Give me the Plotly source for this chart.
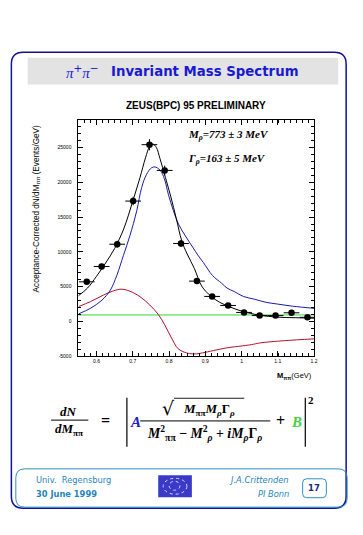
import plotly.graph_objects as go

# ---------------- data ----------------
mass = [0.573, 0.614, 0.657, 0.701, 0.746, 0.788, 0.833, 0.877, 0.919, 0.963, 1.007, 1.050, 1.094, 1.138, 1.182]
counts = [5700, 7900, 11100, 17300, 25400, 21700, 11200, 5800, 3600, 2300, 1300, 850, 850, 1250, 600]
count_err = [350, 400, 500, 600, 800, 700, 500, 400, 300, 250, 250, 250, 250, 250, 250]
bin_half = [0.0217] * 15

fit_x = [0.55, 0.575, 0.60, 0.625, 0.65, 0.675, 0.70, 0.72, 0.735, 0.747, 0.755, 0.765, 0.775,
         0.79, 0.805, 0.82, 0.835, 0.85, 0.87, 0.89, 0.915, 0.94, 0.97, 1.0, 1.05, 1.1, 1.15, 1.2]
fit_y = [3700, 4800, 6500, 8400, 10500, 13300, 17300, 20700, 23500, 25200, 25500, 25000, 23400,
         20700, 17900, 14800, 11600, 9700, 7600, 5100, 3650, 2750, 2050, 1500, 900, 620, 540, 470]

bw_x = [0.55, 0.583, 0.615, 0.638, 0.656, 0.674, 0.692, 0.711, 0.7245, 0.738, 0.752, 0.762, 0.772,
        0.780, 0.789, 0.798, 0.812, 0.826, 0.845, 0.865, 0.88, 0.895, 0.92, 0.945, 0.96, 0.98,
        1.005, 1.036, 1.068, 1.1, 1.141, 1.2]
bw_y = [1080, 1890, 3070, 4500, 6630, 9470, 12320, 15930, 19250, 21140, 22090, 22200, 21900,
        21380, 20200, 18290, 15930, 14000, 12300, 10700, 9500, 8450, 6600, 5500, 4800, 4300,
        3600, 3200, 2750, 2500, 2200, 1890]

int_x = [0.55, 0.583, 0.619, 0.647, 0.67, 0.692, 0.72, 0.747, 0.77, 0.788, 0.807, 0.825, 0.848,
         0.865, 0.88, 0.935, 0.958, 1.027, 1.05, 1.118, 1.2]
int_y = [2130, 2850, 3790, 4410, 4640, 4350, 3560, 2360, 1040, -480, -2380, -3900, -4510,
         -4650, -4620, -4040, -3800, -3330, -3090, -2760, -2500]

bg_x = [0.55, 1.2]
bg_y = [940, 940]

x_ticks = [0.6, 0.7, 0.8, 0.9, 1.0, 1.1, 1.2]
x_ticklabels = ["0.6", "0.7", "0.8", "0.9", "1", "1.1", "1.2"]
y_ticks = [-5000, 0, 5000, 10000, 15000, 20000, 25000]
y_ticklabels = ["-5000", "0", "5000", "10000", "15000", "20000", "25000"]

# ---------------- geometry helpers ----------------
W, H = 363, 535
def PX(x):
    return x / W
def PY(y):
    return 1 - y / H

def rrect(x0, y0, x1, y1, r):
    pts = [
        f"M{PX(x0 + r)},{PY(y0)}",
        f"L{PX(x1 - r)},{PY(y0)}",
        f"Q{PX(x1)},{PY(y0)} {PX(x1)},{PY(y0 + r)}",
        f"L{PX(x1)},{PY(y1 - r)}",
        f"Q{PX(x1)},{PY(y1)} {PX(x1 - r)},{PY(y1)}",
        f"L{PX(x0 + r)},{PY(y1)}",
        f"Q{PX(x0)},{PY(y1)} {PX(x0)},{PY(y1 - r)}",
        f"L{PX(x0)},{PY(y0 + r)}",
        f"Q{PX(x0)},{PY(y0)} {PX(x0 + r)},{PY(y0)}",
        "Z",
    ]
    return " ".join(pts)

fig = go.Figure()

fig.add_trace(go.Scatter(x=bg_x, y=bg_y, mode="lines", line=dict(color="#33d633", width=1)))
fig.add_trace(go.Scatter(x=int_x, y=int_y, mode="lines", line=dict(color="#b0102a", width=1, shape="spline")))
fig.add_trace(go.Scatter(x=bw_x, y=bw_y, mode="lines", line=dict(color="#1a1aa8", width=1, shape="spline")))
fig.add_trace(go.Scatter(x=fit_x, y=fit_y, mode="lines", line=dict(color="black", width=1, shape="spline")))
fig.add_trace(go.Scatter(
    x=mass, y=counts, mode="markers",
    marker=dict(color="black", size=6.5, symbol="circle"),
    error_x=dict(type="data", array=bin_half, width=0, color="black", thickness=1),
    error_y=dict(type="data", array=count_err, width=0, color="black", thickness=1),
))

tickfont = dict(family="Liberation Sans", size=5, color="black")

fig.update_layout(
    width=W, height=H, autosize=False,
    margin=dict(l=0, r=0, t=0, b=0),
    paper_bgcolor="white", plot_bgcolor="white",
    showlegend=False,
    xaxis=dict(
        domain=[PX(79.3), PX(317.5)], range=[0.55, 1.2],
        tickmode="array", tickvals=x_ticks, ticktext=x_ticklabels,
        ticks="inside", ticklen=5, tickwidth=1, tickcolor="black",
        showline=True, linecolor="black", linewidth=1, mirror="allticks",
        showgrid=False, zeroline=False, tickfont=tickfont,
        minor=dict(tickmode="linear", tick0=0.55, dtick=0.0167, ticks="inside", ticklen=3,
                   tickcolor="black", showgrid=False),
    ),
    yaxis=dict(
        domain=[PY(358.3), PY(120.3)], range=[-5000, 29000],
        tickmode="array", tickvals=y_ticks, ticktext=y_ticklabels,
        ticks="inside", ticklen=5, tickwidth=1, tickcolor="black",
        showline=True, linecolor="black", linewidth=1, mirror="allticks",
        showgrid=False, zeroline=False, tickfont=tickfont, ticklabelstandoff=5,
        minor=dict(tickmode="linear", tick0=0, dtick=1000, ticks="inside", ticklen=3,
                   tickcolor="black", showgrid=False),
    ),
)

shapes = []
shapes.append(dict(type="path", path=rrect(11.5, 52.5, 350, 511, 12), xref="paper", yref="paper",
                   line=dict(color="#10109a", width=1.5), fillcolor="rgba(0,0,0,0)", layer="below"))
shapes.append(dict(type="rect", x0=PX(28), x1=PX(342), y0=PY(85), y1=PY(58), xref="paper", yref="paper",
                   line=dict(width=0), fillcolor="#e3e3e3", layer="below"))
shapes.append(dict(type="path", path=rrect(16, 471.5, 351, 510, 9), xref="paper", yref="paper",
                   line=dict(color="#2f8fc4", width=1), fillcolor="rgba(0,0,0,0)", layer="below"))
shapes.append(dict(type="path", path=rrect(306, 481.5, 330, 500.5, 4), xref="paper", yref="paper",
                   line=dict(color="#2f8fc4", width=1), fillcolor="rgba(0,0,0,0)"))
shapes.append(dict(type="rect", x0=PX(160), x1=PX(194), y0=PY(500), y1=PY(478), xref="paper", yref="paper",
                   line=dict(width=0), fillcolor="#3a3ac8"))
shapes.append(dict(type="circle", x0=PX(165), x1=PX(189), y0=PY(497), y1=PY(481), xref="paper", yref="paper",
                   line=dict(color="#d8d8ff", width=1, dash="dot"), fillcolor="rgba(0,0,0,0)"))
shapes.append(dict(type="circle", x0=PX(171), x1=PX(182), y0=PY(493), y1=PY(484), xref="paper", yref="paper",
                   line=dict(color="#d8d8ff", width=1, dash="dot"), fillcolor="rgba(0,0,0,0)"))

def hline(x0, x1, y, w=1):
    return dict(type="line", x0=PX(x0), x1=PX(x1), y0=PY(y), y1=PY(y), xref="paper", yref="paper",
                line=dict(color="black", width=w))
def vline(x, y0, y1, w=1.2):
    return dict(type="line", x0=PX(x), x1=PX(x), y0=PY(y0), y1=PY(y1), xref="paper", yref="paper",
                line=dict(color="black", width=w))
shapes.append(hline(51.7, 89.3, 422.5))
shapes.append(hline(141.7, 273.3, 423.3))
shapes.append(hline(176, 247, 400.5, 0.9))
shapes.append(vline(128.3, 400, 449.3))
shapes.append(vline(308.7, 400, 449.3))
fig.update_layout(shapes=shapes)

serif_bi = "Liberation Serif"
ann = []
def A(x, y, text, size, color="black", family="Liberation Sans", xa="center", ya="middle", angle=0):
    ann.append(dict(x=PX(x), y=PY(y), xref="paper", yref="paper", text=text, showarrow=False,
                    xanchor=xa, yanchor=ya, textangle=angle,
                    font=dict(size=size, color=color, family=family)))

# slide title
A(65, 72, "<span style='font-family:Liberation Serif'><i>π</i></span><sup>+</sup>"
          "<span style='font-family:Liberation Serif'><i>π</i></span><sup>−</sup>", 15,
  color="#1a1ad0", family="DejaVu Sans", xa="left")
A(110, 72, "<b>Invariant Mass Spectrum</b>", 13.3, color="#1a1ad0", family="DejaVu Sans", xa="left")
# chart title
A(198, 106, "<b>ZEUS(BPC) 95 PRELIMINARY</b>", 10)
# fit results
A(188, 136, "<b><i>M<sub>ρ</sub>=773 ± 3 MeV</i></b>", 11, family=serif_bi, xa="left")
A(188, 160, "<b><i>Γ<sub>ρ</sub>=163 ± 5 MeV</i></b>", 11, family=serif_bi, xa="left")
# axis titles
A(37, 210, "Acceptance-Corrected dN/dM<sub>ππ</sub> (Events/GeV)", 8.2, angle=-90)
A(317, 378, "<b>M<sub>ππ</sub></b>(GeV)", 7.5, xa="right")

# formula
A(69, 414, "<b><i>dN</i></b>", 13, family=serif_bi)
A(70, 432, "<b><i>dM</i><sub>ππ</sub></b>", 13, family=serif_bi)
A(106.7, 423, "<b>=</b>", 16, family=serif_bi)
A(137, 424, "<b><i>A</i></b>", 15, color="#2020c8", family=serif_bi)
A(170, 410, "√", 19, family="DejaVu Serif")
A(211, 412, "<b><i>M</i><sub>ππ</sub><i>M</i><sub><i>ρ</i></sub>Γ<sub><i>ρ</i></sub></b>", 13, family=serif_bi)
A(207, 435, "<b><i>M</i><sup>2</sup><sub>ππ</sub> − <i>M</i><sup>2</sup><sub><i>ρ</i></sub> + "
            "<i>iM</i><sub><i>ρ</i></sub>Γ<sub><i>ρ</i></sub></b>", 13.8, family=serif_bi)
A(284, 423, "<b>+</b>", 16, family=serif_bi)
A(300, 424, "<b><i>B</i></b>", 15, color="#44d044", family=serif_bi)
A(314, 402, "<b>2</b>", 11, family=serif_bi)

# footer
fc = "#1f86bb"
A(34, 483, "Univ.  Regensburg", 8.3, color=fc, family="DejaVu Sans", xa="left")
A(34, 496.5, "<b>30 June 1999</b>", 8.3, color=fc, family="DejaVu Sans", xa="left")
A(294, 483, "<i>J.A.Crittenden</i>", 8.3, color=fc, family="DejaVu Sans", xa="right")
A(294, 496.5, "<i>PI Bonn</i>", 8.3, color=fc, family="DejaVu Sans", xa="right")
A(318, 491, "<b>17</b>", 8.5, color="#1a2a70", family="DejaVu Sans")

fig.update_layout(annotations=ann)
fig.write_html("out.html", config={"displayModeBar": False},
               post_script="document.body.style.margin='0px';")
